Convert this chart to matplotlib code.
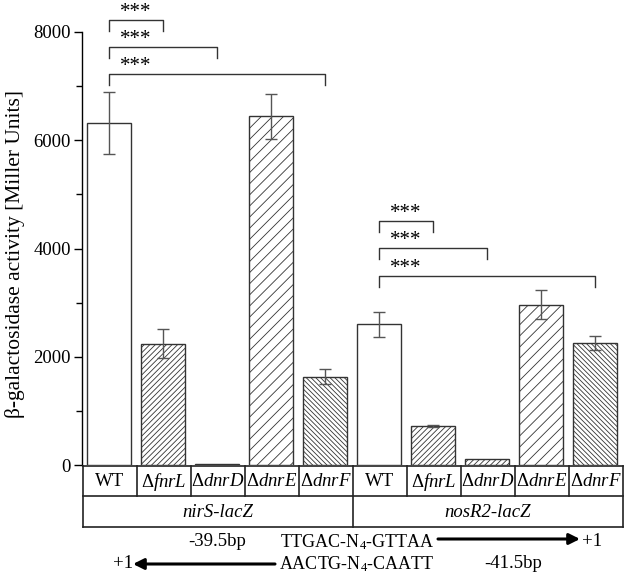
import numpy as np
import matplotlib
matplotlib.use("Agg")
import matplotlib.pyplot as plt

plt.rcParams['font.family'] = ['Liberation Serif', 'DejaVu Serif']
plt.rcParams['mathtext.fontset'] = 'custom'
plt.rcParams['mathtext.rm'] = 'Liberation Serif'
plt.rcParams['mathtext.it'] = 'Liberation Serif:italic'
plt.rcParams['hatch.linewidth'] = 0.6

# ---------------- data ----------------
strains = ['WT', 'fnrL', 'dnrD', 'dnrE', 'dnrF']
reporters = ['nirS-lacZ', 'nosR2-lacZ']
nirS_mean = [6320, 2240, 15, 6440, 1630]
nirS_err = [570, 270, 0, 420, 140]
nosR2_mean = [2600, 720, 120, 2960, 2260]
nosR2_err = [230, 25, 0, 270, 130]
hatches = ['', '//////', '//////', '///', '\\\\\\\\\\\\\\']
# significance comparisons (index within group) and bracket levels
comparisons = [(0, 1), (0, 2), (0, 4)]
nirS_levels = [8220, 7720, 7220]
nosR2_levels = [4510, 4010, 3490]
sig_label = '***'
ylabel = 'β-galactosidase activity [Miller Units]'
y_ticks = [0, 2000, 4000, 6000, 8000]

W, H = 630, 577
fig = plt.figure(figsize=(W / 100, H / 100), dpi=100)
ax = fig.add_axes([82 / W, (H - 465) / H, 540 / W, 433 / H])

means = nirS_mean + nosR2_mean
errs = nirS_err + nosR2_err
x = np.arange(len(means))
ec = '#333333'
for i, (m, e) in enumerate(zip(means, errs)):
    h = hatches[i % 5]
    ax.bar(x[i], m, width=0.8, color='white', edgecolor=ec, linewidth=1.0,
           hatch=h, zorder=2)
    if e > 0:
        ax.errorbar(x[i], m, yerr=e, fmt='none', ecolor='#555555',
                    elinewidth=1.0, capsize=4, capthick=1.0, zorder=3)

ax.set_xlim(-0.5, len(means) - 0.5)
ax.set_ylim(0, 8000)
ax.set_yticks(y_ticks)
ax.set_yticks([1000, 3000, 5000, 7000], minor=True)
ax.tick_params(axis='y', which='major', length=6, width=1, labelsize=13.5,
               pad=2, direction='out')
ax.tick_params(axis='y', which='minor', length=4, width=1, direction='out')
ax.set_xticks([])
for s in ['top', 'right', 'bottom']:
    ax.spines[s].set_visible(False)
ax.spines['left'].set_linewidth(1.0)
ax.set_ylabel(ylabel, fontsize=15.5)
ax.yaxis.set_label_coords(-0.105, 0.487)

# significance brackets
leg = 200
for g, levels in enumerate([nirS_levels, nosR2_levels]):
    base = g * 5
    for (a, b), lv in zip(comparisons, levels):
        xa, xb = base + a, base + b
        ax.plot([xa, xa, xb, xb], [lv - leg, lv, lv, lv - leg], color='#333333',
                lw=1.0, clip_on=False, zorder=4)
        ax.annotate(sig_label, xy=(base + 0.5, lv), xytext=(0, 2.0),
                    textcoords='offset points', ha='center', va='baseline',
                    fontsize=15, annotation_clip=False)

# ---------------- table below ----------------
tab = fig.add_axes([0, 0, 1, 1])
tab.set_xlim(0, W)
tab.set_ylim(H, 0)
tab.axis('off')
tab.patch.set_alpha(0)
x0, cw = 83, 54
top, mid, bot = 466, 496, 527
n = len(means)
lc = '#222222'
tab.plot([x0, x0 + n * cw], [top, top], color=lc, lw=1.2)
tab.plot([x0, x0 + n * cw], [mid, mid], color=lc, lw=1.2)
tab.plot([x0, x0 + n * cw], [bot, bot], color=lc, lw=1.2)
for k in range(n + 1):
    yb = bot if k in (0, 5, 10) else mid
    tab.plot([x0 + k * cw, x0 + k * cw], [top, yb], color=lc, lw=1.2)
for k in range(n):
    s = strains[k % 5]
    lab = s if s == 'WT' else r'$\Delta\mathit{' + s + '}$'
    tab.text(x0 + (k + 0.5) * cw, (top + mid) / 2 + 1, lab, ha='center',
             va='center', fontsize=13.5)
for g, r in enumerate(reporters):
    tab.text(x0 + (g * 5 + 2.5) * cw, (mid + bot) / 2 + 1, r, ha='center',
             va='center', fontsize=13.5, style='italic')

tab.text(217, 542, '-39.5bp', ha='center', va='center', fontsize=13.5)
tab.text(357, 542, 'TTGAC-N$_4$-GTTAA', ha='center', va='center', fontsize=13)
tab.annotate('', xy=(580, 539), xytext=(438, 539),
             arrowprops=dict(arrowstyle='-|>', lw=2.2, color='black',
                             mutation_scale=16, shrinkA=0, shrinkB=0))
tab.text(592, 541, '+1', ha='center', va='center', fontsize=13.5)
tab.text(123, 564, '+1', ha='center', va='center', fontsize=13.5)
tab.annotate('', xy=(133, 564), xytext=(275, 564),
             arrowprops=dict(arrowstyle='-|>', lw=2.2, color='black',
                             mutation_scale=16, shrinkA=0, shrinkB=0))
tab.text(357, 564, 'AACTG-N$_4$-CAATT', ha='center', va='center', fontsize=13)
tab.text(513, 564, '-41.5bp', ha='center', va='center', fontsize=13.5)

fig.savefig('out.png', dpi=100, facecolor='white')
